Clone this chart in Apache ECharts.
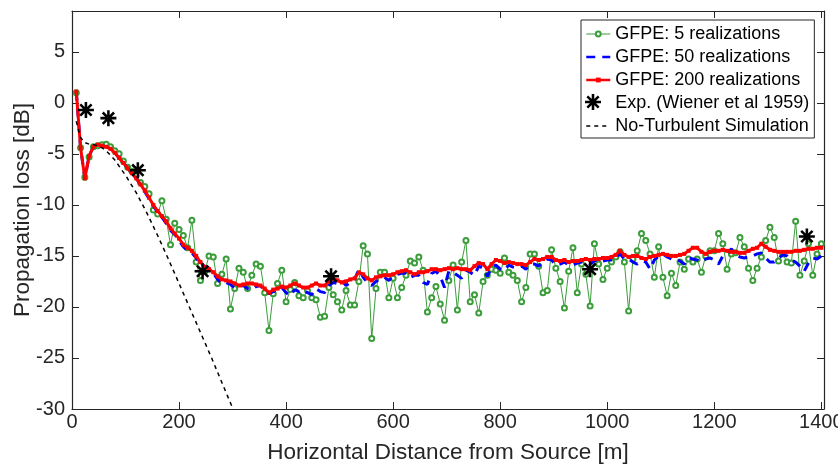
<!DOCTYPE html>
<html><head><meta charset="utf-8">
<script src="https://cdn.jsdelivr.net/npm/echarts@6/dist/echarts.min.js"></script>
<style>html,body{margin:0;padding:0;background:#fff}#c{width:838px;height:468px}</style>
</head><body><div id="c"></div>
<script>
// ---------- data ----------
const distance = [
8,16,24,32,40,48,56,64,72,80,
88,96,104,112,120,128,136,144,152,160,
168,176,184,192,200,208,216,224,232,240,
248,256,264,272,280,288,296,304,312,320,
328,336,344,352,360,368,376,384,392,400,
408,416,424,432,440,448,456,464,472,480,
488,496,504,512,520,528,536,544,552,560,
568,576,584,592,600,608,616,624,632,640,
648,656,664,672,680,688,696,704,712,720,
728,736,744,752,760,768,776,784,792,800,
808,816,824,832,840,848,856,864,872,880,
888,896,904,912,920,928,936,944,952,960,
968,976,984,992,1000,1008,1016,1024,1032,1040,
1048,1056,1064,1072,1080,1088,1096,1104,1112,1120,
1128,1136,1144,1152,1160,1168,1176,1184,1192,1200,
1208,1216,1224,1232,1240,1248,1256,1264,1272,1280,
1288,1296,1304,1312,1320,1328,1336,1344,1352,1360,
1368,1376,1384,1392,1400];

const gfpe5 = [
1.0,-4.4,-7.3,-5.3,-4.3,-4.2,-4.1,-4.05,-4.3,-4.7,
-5.0,-5.7,-6.3,-6.7,-7.1,-7.8,-8.2,-8.9,-10.5,-10.9,
-9.6,-11.4,-13.9,-11.8,-12.4,-13.0,-14.2,-11.5,-15.6,-17.4,
-16.5,-15.0,-15.1,-17.7,-16.8,-15.3,-20.2,-18.2,-16.2,-16.6,
-18.2,-16.9,-15.8,-16.0,-18.6,-22.3,-18.7,-17.7,-16.4,-19.5,
-18.3,-17.6,-18.9,-19.1,-18.4,-19.1,-19.3,-21.0,-20.9,-18.1,
-18.8,-19.5,-20.3,-18.4,-19.8,-19.8,-17.5,-14.0,-14.8,-23.1,
-18.2,-16.6,-16.6,-19.1,-17.2,-19.1,-18.1,-16.9,-15.5,-15.7,
-15.1,-16.4,-20.5,-19.1,-18.0,-19.7,-21.3,-17.4,-15.9,-20.3,
-15.6,-13.5,-19.5,-18.8,-20.6,-17.5,-16.9,-16.3,-16.4,-16.7,
-15.2,-16.6,-16.9,-17.4,-19.5,-18.1,-14.8,-14.8,-16.0,-18.6,
-18.4,-14.4,-16.2,-17.5,-20.1,-16.5,-14.2,-18.6,-15.8,-16.8,
-19.9,-13.8,-15.8,-17.3,-16.2,-15.6,-15.1,-14.6,-15.6,-20.4,
-15.3,-14.5,-12.8,-13.5,-14.8,-17.1,-14.1,-17.1,-18.9,-16.7,
-17.9,-15.6,-16.3,-15.3,-15.6,-15.3,-16.6,-15.0,-14.5,-14.5,
-12.8,-13.8,-16.3,-14.8,-14.7,-13.2,-14.1,-16.2,-17.4,-16.2,
-15.1,-13.5,-12.2,-13.2,-15.5,-14.8,-15.6,-15.7,-11.6,-16.9,
-15.5,-13.8,-16.9,-14.8,-13.8];

const gfpe50 = [
1.1,-4.4,-7.4,-5.2,-4.3,-4.1,-4.2,-4.3,-4.5,-4.9,
-5.4,-5.9,-6.4,-6.9,-7.4,-8.0,-8.7,-9.4,-10.1,-10.7,
-11.2,-11.8,-12.5,-12.9,-13.5,-14.1,-14.5,-14.7,-15.2,-15.8,
-16.0,-16.2,-16.7,-17.3,-17.7,-17.6,-17.8,-18.1,-18.0,-17.9,
-18.2,-18.3,-18.0,-17.9,-18.4,-18.7,-18.5,-18.3,-18.1,-18.6,
-18.9,-18.3,-18.5,-18.3,-18.6,-18.8,-18.2,-18.5,-18.6,-17.9,
-17.6,-17.7,-17.4,-17.9,-17.6,-17.3,-16.3,-17.1,-17.6,-17.9,
-17.5,-17.2,-17.1,-17.4,-17.0,-16.8,-16.7,-16.7,-17.1,-16.9,
-16.9,-17.6,-17.8,-16.7,-16.5,-17.0,-18.1,-16.5,-16.6,-16.9,
-17.2,-16.4,-16.6,-16.9,-16.0,-16.2,-17.0,-16.1,-15.9,-16.3,
-16.4,-15.9,-16.1,-16.2,-16.0,-16.3,-15.8,-15.8,-16.0,-15.6,
-15.3,-15.4,-15.9,-15.8,-15.6,-15.9,-15.9,-15.7,-15.6,-15.6,
-15.8,-15.5,-15.3,-15.5,-15.4,-15.4,-15.2,-14.8,-15.3,-15.3,
-15.6,-15.8,-15.5,-15.6,-16.3,-15.4,-15.0,-14.8,-15.1,-15.3,
-15.3,-15.5,-15.8,-15.2,-15.3,-15.4,-15.6,-15.3,-15.2,-15.4,
-15.8,-15.0,-14.8,-14.3,-14.9,-15.1,-15.2,-15.1,-15.0,-14.8,
-14.7,-15.2,-15.6,-15.6,-15.2,-14.9,-15.0,-15.4,-15.6,-16.0,
-16.5,-15.7,-15.2,-15.3,-15.0];

const gfpe200 = [
1.1,-4.4,-7.4,-5.2,-4.3,-4.1,-4.2,-4.3,-4.5,-4.9,
-5.4,-5.9,-6.4,-6.9,-7.4,-8.0,-8.6,-9.3,-10.0,-10.6,
-11.1,-11.6,-12.3,-12.8,-13.3,-13.9,-14.2,-14.5,-15.0,-15.6,
-16.1,-16.3,-16.6,-17.0,-17.3,-17.4,-17.5,-17.7,-17.9,-17.8,
-17.7,-17.7,-17.8,-17.9,-18.2,-18.6,-18.3,-18.2,-18.0,-18.1,
-17.9,-17.7,-17.9,-18.1,-18.1,-17.9,-17.7,-17.9,-17.9,-17.5,
-17.2,-17.4,-17.6,-17.5,-17.3,-17.2,-16.6,-16.8,-17.2,-17.4,
-17.1,-17.0,-16.9,-16.9,-16.8,-16.6,-16.5,-16.4,-16.6,-16.8,
-16.6,-16.6,-16.5,-16.3,-16.3,-16.4,-16.3,-16.2,-16.3,-16.2,
-16.3,-16.3,-16.4,-16.0,-15.7,-15.8,-16.3,-15.8,-15.4,-15.5,
-15.7,-15.6,-15.7,-15.8,-15.8,-15.9,-15.6,-15.3,-15.4,-15.3,
-15.1,-15.1,-15.4,-15.5,-15.4,-15.6,-15.5,-15.5,-15.4,-15.3,
-15.4,-15.3,-15.3,-15.2,-15.2,-15.1,-14.9,-14.5,-14.9,-15.1,
-15.0,-15.0,-15.2,-15.3,-15.1,-15.0,-14.9,-14.8,-14.9,-15.0,
-15.0,-14.9,-14.8,-14.5,-14.2,-14.2,-14.6,-14.8,-14.6,-14.5,
-14.5,-14.4,-14.5,-14.6,-14.6,-14.7,-14.7,-14.5,-14.3,-14.2,
-13.8,-14.1,-14.4,-14.5,-14.6,-14.6,-14.6,-14.6,-14.5,-14.5,
-14.4,-14.3,-14.3,-14.2,-14.2];

const noTurbDistance = [8,16,24,32,40,48,56,64,80,100,120,140,160,180,200,220,240,260,280,300,320];
const noTurbLoss = [-1.8,-3.4,-3.9,-4.05,-4.1,-4.2,-4.4,-4.7,-5.6,-7.1,-8.8,-10.8,-13.0,-15.3,-17.7,-20.1,-22.5,-24.9,-27.4,-29.9,-32.4];

const expDistance = [26,68,123,244,484,968,1373];
const expLoss = [-0.7,-1.5,-6.6,-16.5,-17.0,-16.3,-13.1];

const seriesNames = ['GFPE: 5 realizations','GFPE: 50 realizations','GFPE: 200 realizations','Exp. (Wiener et al 1959)','No-Turbulent Simulation'];
const xLimits = [0, 1405];
const yLimits = [-30, 9];
const xStep = 200, yStep = 5;
const xTitle = 'Horizontal Distance from Source [m]';
const yTitle = 'Propagation loss [dB]';

// ---------- chart ----------
const FF = '"Liberation Sans", Arial, Helvetica, sans-serif';
const AX = '#262626';
const pair = (xs, ys) => xs.map((x, i) => [x, ys[i]]);
const ASTER = 'path://M0 42L100 42L100 58L0 58ZM42 0L58 0L58 100L42 100ZM20.2 8.9L91.1 79.8L79.8 91.1L8.9 20.2ZM91.1 20.2L20.2 91.1L8.9 79.8L79.8 8.9Z';
const plain = v => String(v);

const axisCommon = {
  axisLine: {show: true, onZero: false, lineStyle: {color: AX, width: 1.2}},
  axisTick: {show: true, inside: true, length: 7, lineStyle: {color: AX, width: 1}},
  splitLine: {show: false},
  nameMoveOverlap: false
};

const chart = echarts.init(document.getElementById('c'), null, {renderer: 'canvas'});
chart.setOption({
  animation: false,
  backgroundColor: '#fff',
  grid: {left: 72, right: 14, top: 11, bottom: 59, containLabel: false, outerBoundsMode: 'none'},
  xAxis: [
    Object.assign({type: 'value', min: xLimits[0], max: xLimits[1], interval: xStep, position: 'bottom',
      name: xTitle, nameLocation: 'middle', nameGap: 32,
      nameTextStyle: {fontSize: 22.5, color: AX, fontFamily: FF},
      axisLabel: {fontSize: 20, color: AX, fontFamily: FF, margin: 3, showMaxLabel: false, formatter: plain}}, axisCommon),
    Object.assign({type: 'value', min: xLimits[0], max: xLimits[1], interval: xStep, position: 'top',
      axisLabel: {show: false}}, axisCommon)
  ],
  yAxis: [
    Object.assign({type: 'value', min: yLimits[0], max: yLimits[1], interval: yStep, position: 'left',
      name: yTitle, nameLocation: 'middle', nameGap: 38,
      nameTextStyle: {fontSize: 22.5, color: AX, fontFamily: FF},
      axisLabel: {fontSize: 20, color: AX, fontFamily: FF, margin: 7, showMaxLabel: false, formatter: plain}}, axisCommon),
    Object.assign({type: 'value', min: yLimits[0], max: yLimits[1], interval: yStep, position: 'right',
      axisLabel: {show: false}}, axisCommon)
  ],
  legend: [
    {orient: 'vertical', left: 581, top: 20, padding: [5, 5, 3, 4], itemGap: 5, itemWidth: 24, itemHeight: 6,
     backgroundColor: '#fff', borderColor: AX, borderWidth: 1, selectedMode: false,
     textStyle: {fontSize: 18, color: '#000', fontFamily: FF},
     data: [
       {name: seriesNames[0], lineStyle: {width: 1}},
       {name: seriesNames[1], itemStyle: {opacity: 0}, lineStyle: {width: 2.5}},
       {name: seriesNames[2], lineStyle: {width: 2.5}},
       {name: seriesNames[3], itemStyle: {opacity: 0}},
       {name: seriesNames[4], itemStyle: {opacity: 0}, lineStyle: {width: 1.5}}
     ]},
    {orient: 'vertical', left: 585, top: 93, padding: 0, itemWidth: 24, itemHeight: 16, selectedMode: false,
     textStyle: {fontSize: 18, color: 'rgba(0,0,0,0)', fontFamily: FF},
     data: [seriesNames[3]]}
  ],
  series: [
    {name: seriesNames[0], type: 'line', data: pair(distance, gfpe5), symbol: 'emptyCircle', symbolSize: 5,
     showAllSymbol: true, lineStyle: {color: '#3a9d3a', width: 1}, itemStyle: {color: '#3a9d3a', borderWidth: 1}, z: 2},
    {name: seriesNames[1], type: 'line', data: pair(distance, gfpe50), symbol: 'none',
     lineStyle: {color: '#0000ff', width: 3, type: [9, 7]}, itemStyle: {color: '#0000ff'}, z: 3},
    {name: seriesNames[2], type: 'line', data: pair(distance, gfpe200), symbol: 'rect', symbolSize: 4,
     showAllSymbol: true, lineStyle: {color: '#ff0000', width: 3}, itemStyle: {color: '#ff0000'}, z: 4},
    {name: seriesNames[3], type: 'scatter', data: pair(expDistance, expLoss), symbol: ASTER, symbolSize: 16,
     itemStyle: {color: '#000', opacity: 1}, z: 6},
    {name: seriesNames[4], type: 'line', data: pair(noTurbDistance, noTurbLoss), symbol: 'none',
     lineStyle: {color: '#000', width: 1.5, type: [4, 4]}, itemStyle: {color: '#000'}, z: 5}
  ]
});
</script></body></html>
